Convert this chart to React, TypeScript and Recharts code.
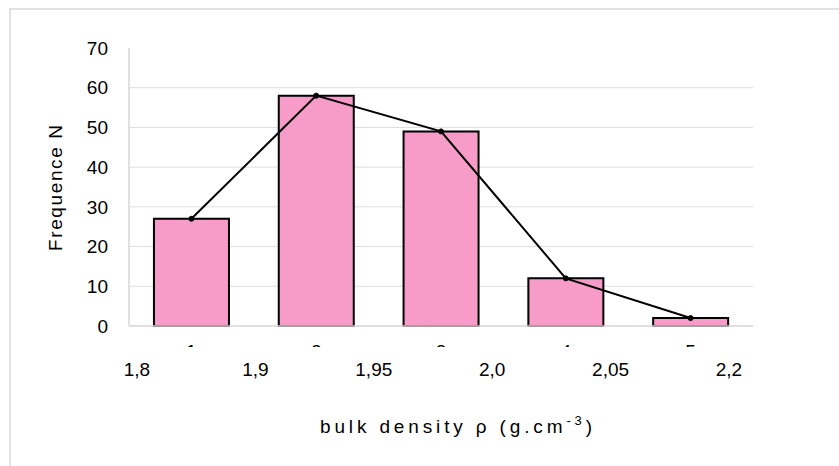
import React from 'react';
import { ComposedChart, Bar, Line, XAxis, YAxis, CartesianGrid } from 'recharts';

const bins = ['1', '2', '3', '4', '5'];
const frequency = [27, 58, 49, 12, 2];
const edgeLabels = ['1,8', '1,9', '1,95', '2,0', '2,05', '2,2'];
const yTicks = [0, 10, 20, 30, 40, 50, 60, 70];

// pos = bin centre in "bin units" (bin i spans edges i..i+1)
const data = bins.map((b, i) => ({ bin: b, freq: frequency[i], pos: i + 0.5 }));
const edgeTicks = edgeLabels.map((_, i) => i);

const FONT = '"Liberation Sans", Arial, sans-serif';

const CatTick = (props: any) => {
  const { x, y, payload, index } = props;
  const id = `clipcat${index}`;
  return (
    <g>
      <clipPath id={id}>
        <rect x={x - 20} y={y} width={40} height={21} />
      </clipPath>
      <text x={x} y={y + 32} textAnchor="middle" fontSize={19} fontFamily={FONT} fill="#000" clipPath={`url(#${id})`}>
        {payload.value}
      </text>
    </g>
  );
};

const XTitle = (props: any) => {
  const vb = props.viewBox;
  return (
    <text
      x={vb.x + vb.width / 2 - 121}
      y={vb.y + 87}
      textAnchor="start"
      fontSize={19}
      fontFamily={FONT}
      fill="#000"
      textLength={272}
      lengthAdjust="spacing"
    >
      <tspan>bulk density  ρ (g.cm</tspan>
      <tspan dy={-8} fontSize={13}>-3</tspan>
      <tspan dy={8}>)</tspan>
    </text>
  );
};

const YTitle = (props: any) => {
  const vb = props.viewBox;
  const cy = vb.y + vb.height / 2 + 1;
  return (
    <text
      x={62}
      y={cy}
      transform={`rotate(-90, 62, ${cy})`}
      textAnchor="middle"
      fontSize={19}
      fontFamily={FONT}
      fill="#000"
      textLength={126}
      lengthAdjust="spacing"
    >
      Frequence N
    </text>
  );
};

export default function App() {
  return (
    <div style={{ position: 'absolute', left: 0, top: 0, width: 839, height: 466, background: '#fff' }}>
      <div
        style={{
          position: 'absolute',
          left: 9,
          top: 8,
          width: 840,
          height: 470,
          borderLeft: '2px solid #e2e2e2',
          borderTop: '2px solid #e2e2e2',
        }}
      />
      <div style={{ position: 'absolute', left: 0, top: 0 }}>
        <ComposedChart
          width={839}
          height={466}
          data={data}
          margin={{ top: 48, right: 86, left: 0, bottom: 0 }}
          barCategoryGap="20%"
        >
          <CartesianGrid vertical={false} stroke="#dedede" horizontalValues={[10, 20, 30, 40, 50, 60]} />
          <XAxis
            xAxisId="cat"
            dataKey="bin"
            height={20}
            axisLine={{ stroke: '#d6d6d6', strokeWidth: 1.5 }}
            tickLine={false}
            tickSize={0}
            tickMargin={0}
            tick={<CatTick />}
            interval={0}
          />
          <XAxis
            xAxisId="edge"
            dataKey="pos"
            type="number"
            domain={[-0.0675, 5.203]}
            allowDataOverflow
            ticks={edgeTicks}
            tickFormatter={(v: number) => edgeLabels[v]}
            height={120}
            axisLine={false}
            tickLine={false}
            tickSize={0}
            tickMargin={17}
            tick={{ fontSize: 19, fontFamily: FONT, fill: '#000' }}
            interval={0}
            label={<XTitle />}
          />
          <YAxis
            width={129}
            domain={[0, 70]}
            ticks={yTicks}
            interval={0}
            axisLine={{ stroke: '#d6d6d6', strokeWidth: 1.5 }}
            tickLine={false}
            tickSize={0}
            tickMargin={21}
            tick={{ fontSize: 19, fontFamily: FONT, fill: '#000' }}
            label={<YTitle />}
          />
          <Bar
            xAxisId="cat"
            dataKey="freq"
            fill="#f79bc9"
            stroke="#000"
            strokeWidth={2}
            isAnimationActive={false}
          />
          <Line
            xAxisId="cat"
            dataKey="freq"
            type="linear"
            stroke="#000"
            strokeWidth={2}
            dot={{ r: 2.5, fill: '#000', stroke: '#000', strokeWidth: 1 }}
            activeDot={false}
            isAnimationActive={false}
          />
        </ComposedChart>
      </div>
    </div>
  );
}
